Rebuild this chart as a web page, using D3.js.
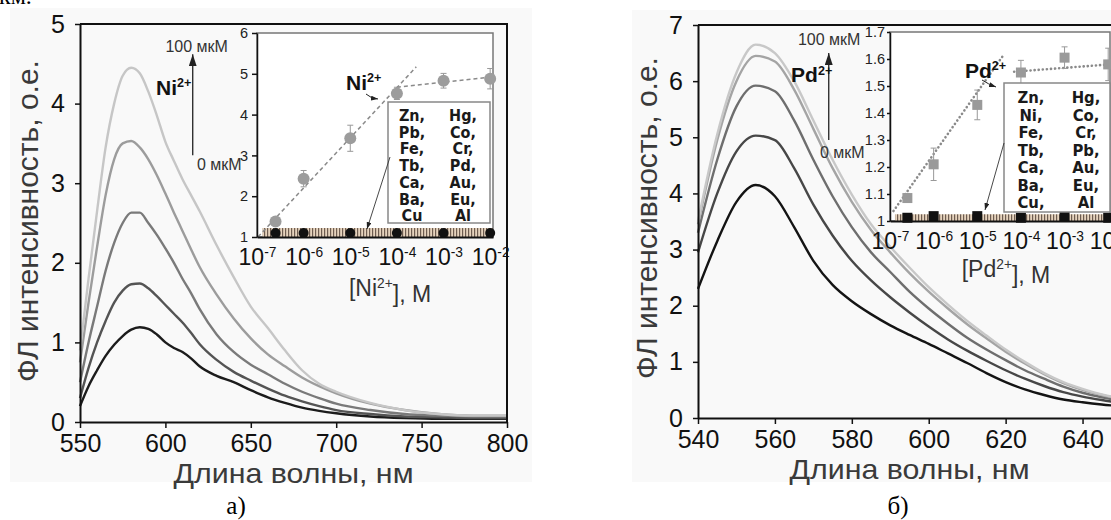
<!DOCTYPE html>
<html>
<head>
<meta charset="utf-8">
<script src="https://cdn.jsdelivr.net/npm/d3@7"></script>
<style>
  body { margin: 0; background: #fff; }
  svg { display: block; font-family: "Liberation Sans", Arial, sans-serif; }
</style>
</head>
<body>
<svg id="fig" width="1111" height="520"></svg>
<script>
"use strict";

// ---- data: panel a (Ni2+) spectra, lightest (100 мкМ) first
var niWave = [550, 555, 560, 565, 570, 575, 580, 585, 590, 595, 600, 605, 610, 615, 620,
              630, 640, 650, 660, 670, 680, 690, 700, 720, 740, 760, 780, 800];
var niSpectra = [
  [0.9, 1.8, 2.65, 3.45, 4.0, 4.35, 4.45, 4.38, 4.15, 3.85, 3.52, 3.28, 3.05, 2.85, 2.65,
   2.22, 1.82, 1.45, 1.18, 0.9, 0.65, 0.48, 0.38, 0.24, 0.15, 0.1, 0.08, 0.08],
  [0.75, 1.5, 2.2, 2.85, 3.3, 3.5, 3.53, 3.45, 3.3, 3.1, 2.87, 2.63, 2.4, 2.17, 1.95,
   1.6, 1.3, 1.05, 0.85, 0.7, 0.56, 0.45, 0.36, 0.23, 0.15, 0.1, 0.08, 0.08],
  [0.5, 1.0, 1.45, 1.9, 2.25, 2.5, 2.63, 2.63, 2.5, 2.35, 2.18, 2.0, 1.8, 1.62, 1.42,
   1.1, 0.88, 0.72, 0.6, 0.48, 0.38, 0.3, 0.23, 0.15, 0.1, 0.08, 0.07, 0.07],
  [0.3, 0.68, 1.0, 1.27, 1.5, 1.65, 1.73, 1.74, 1.68, 1.58, 1.47, 1.36, 1.25, 1.12, 0.98,
   0.78, 0.63, 0.52, 0.42, 0.33, 0.26, 0.2, 0.15, 0.1, 0.07, 0.06, 0.05, 0.05],
  [0.2, 0.45, 0.65, 0.83, 0.97, 1.08, 1.16, 1.19, 1.17, 1.1, 1.0, 0.93, 0.88, 0.8, 0.7,
   0.58, 0.5, 0.4, 0.31, 0.24, 0.18, 0.14, 0.11, 0.07, 0.05, 0.04, 0.04, 0.04]
];
var niColors = ["#c6c6c6", "#9c9c9c", "#7a7a7a", "#545454", "#1c1c1c"];

// ---- data: panel б (Pd2+) spectra
var pdWave = [540, 545, 550, 555, 560, 565, 570, 575, 580, 585, 590, 595, 600, 605, 610,
              615, 620, 625, 630, 635, 640, 645, 650];
var pdSpectra = [
  [3.5, 5.05, 6.15, 6.65, 6.5, 6.0, 5.3, 4.6, 3.98, 3.45, 3.05, 2.68, 2.33, 2.02, 1.73, 1.47, 1.22, 1.0, 0.8, 0.64, 0.52, 0.42, 0.35],
  [3.45, 4.95, 6.0, 6.45, 6.35, 5.85, 5.15, 4.45, 3.85, 3.35, 2.95, 2.58, 2.25, 1.95, 1.67, 1.42, 1.18, 0.97, 0.78, 0.62, 0.5, 0.41, 0.34],
  [3.3, 4.6, 5.55, 5.92, 5.82, 5.3, 4.6, 3.95, 3.4, 2.95, 2.6, 2.25, 1.95, 1.68, 1.43, 1.22, 1.03, 0.85, 0.7, 0.56, 0.45, 0.37, 0.31],
  [2.95, 4.0, 4.75, 5.03, 4.95, 4.45, 3.8, 3.25, 2.8, 2.45, 2.15, 1.88, 1.63, 1.4, 1.2, 1.02, 0.85, 0.7, 0.57, 0.46, 0.38, 0.32, 0.27],
  [2.3, 3.15, 3.85, 4.15, 3.95, 3.4, 2.8, 2.37, 2.08, 1.85, 1.65, 1.48, 1.32, 1.15, 0.98, 0.8, 0.64, 0.51, 0.41, 0.33, 0.28, 0.24, 0.21]
];
var pdColors = ["#c8c8c8", "#a4a4a4", "#6e6e6e", "#474747", "#141414"];

// ---- data: insets
var conc = [2.5e-7, 1e-6, 1e-5, 1e-4, 1e-3, 1e-2];
var niResp = [1.38, 2.43, 3.42, 4.52, 4.83, 4.88];
var niErr = [0.1, 0.2, 0.32, 0.15, 0.18, 0.25];
var niOther = [1.1, 1.1, 1.1, 1.1, 1.1, 1.1];
var niFits = [[[1.05e-7, 1.0], [2.6e-4, 5.17]], [[1e-4, 4.67], [1e-2, 4.92]]];
var niBand = [1.3e-7, 1.15e-2, 1.0, 1.22];

var pdResp = [1.085, 1.21, 1.43, 1.55, 1.605, 1.58];
var pdErr = [0.015, 0.06, 0.055, 0.045, 0.04, 0.06];
var pdOther = [1.012, 1.018, 1.018, 1.012, 1.015, 1.012];
var pdFits = [[[1.2e-7, 1.037], [4.2e-5, 1.62]], [[7e-5, 1.553], [1.1e-2, 1.58]]];
var pdBand = [1.3e-7, 1.1e-2, 1.0, 1.025];

var niLegend = [["Zn,", "Pb,", "Fe,", "Tb,", "Ca,", "Ba,", "Cu"], ["Hg,", "Co,", "Cr,", "Pd,", "Au,", "Eu,", "Al"]];
var pdLegend = [["Zn,", "Ni,", "Fe,", "Tb,", "Ca,", "Ba,", "Cu,"], ["Hg,", "Co,", "Cr,", "Pb,", "Au,", "Eu,", "Al"]];
var decades = [1e-7, 1e-6, 1e-5, 1e-4, 1e-3, 1e-2];

var svg = d3.select("#fig");
var defs = svg.append("defs");

function arrowMarker(id, w, h) {
  defs.append("marker").attr("id", id)
    .attr("viewBox", "0 0 " + w + " " + h)
    .attr("refX", w).attr("refY", h / 2)
    .attr("markerWidth", w).attr("markerHeight", h)
    .attr("markerUnits", "userSpaceOnUse")
    .attr("orient", "auto")
    .append("path").attr("d", "M0,0L" + w + "," + (h / 2) + "L0," + h + "z").attr("fill", "#222");
}
arrowMarker("bigArrow", 12, 8);
arrowMarker("smallArrow", 7, 5);

// striped band for the other metals
var pat = defs.append("pattern").attr("id", "stripes")
  .attr("patternUnits", "userSpaceOnUse").attr("width", 3).attr("height", 20);
pat.append("rect").attr("width", 3).attr("height", 20).attr("fill", "#e6d3bd");
pat.append("rect").attr("width", 1.2).attr("height", 20).attr("fill", "#6d5c50");

// scanned page backgrounds
svg.append("rect").attr("x", 10).attr("y", 8).attr("width", 522).attr("height", 474).attr("fill", "#f9f9f9");
svg.append("rect").attr("x", 632).attr("y", 10).attr("width", 479).attr("height", 472).attr("fill", "#f9f9f9");

// fragment of the text line above the figure
svg.append("text").attr("x", -1).attr("y", 4).attr("font-family", "Liberation Serif, serif")
  .attr("font-size", 24).text("км.");

function styleAxis(g, size, color) {
  g.attr("font-family", null).attr("font-size", size);
  g.select(".domain").attr("stroke", "#111").attr("stroke-width", 2);
  g.selectAll(".tick line").attr("stroke", "#111").attr("stroke-width", 1.5);
  g.selectAll(".tick text").attr("fill", color || "#111");
}

function supText(sel, base, sup, tail) {
  sel.append("tspan").text(base);
  sel.append("tspan").attr("dy", "-0.6em").attr("font-size", "0.6em").text(sup);
  if (tail) sel.append("tspan").attr("dy", "0.6em").text(tail);
}

function mainPanel(o) {
  var x = d3.scaleLinear().domain(o.xDomain).range(o.xRange);
  var y = d3.scaleLinear().domain(o.yDomain).range(o.yRange);
  var g = svg.append("g");

  var line = d3.line().curve(d3.curveMonotoneX)
    .x(function (d) { return x(d[0]); }).y(function (d) { return y(d[1]); });
  o.spectra.slice().reverse().forEach(function (s, i) {
    var k = o.spectra.length - 1 - i;
    g.append("path").datum(o.wave.map(function (w, j) { return [w, s[j]]; }))
      .attr("d", line).attr("fill", "none")
      .attr("stroke", o.colors[k]).attr("stroke-width", 2.4);
  });

  // frame
  g.append("path")
    .attr("d", "M" + x.range()[0] + "," + y.range()[1] + "H" + x.range()[1] + "V" + y.range()[0])
    .attr("fill", "none").attr("stroke", "#111").attr("stroke-width", 2);

  var ax = g.append("g").attr("transform", "translate(0," + y.range()[0] + ")")
    .call(d3.axisBottom(x).tickValues(o.xTicks).tickSize(6).tickSizeOuter(0).tickPadding(6).tickFormat(d3.format("d")));
  styleAxis(ax, 25);
  var ay = g.append("g").attr("transform", "translate(" + x.range()[0] + ",0)")
    .call(d3.axisLeft(y).ticks(o.yDomain[1]).tickSize(5).tickSizeOuter(0).tickPadding(10).tickFormat(d3.format("d")));
  styleAxis(ay, 25);

  g.append("text").attr("x", (x.range()[0] + x.range()[1]) / 2).attr("y", o.xTitleY)
    .attr("text-anchor", "middle").attr("font-size", 28).attr("fill", "#3a3a3a")
    .attr("textLength", 240).attr("lengthAdjust", "spacingAndGlyphs")
    .text("Длина волны, нм");
  g.append("text").attr("transform", "translate(" + o.yTitleX + "," + o.yTitleY + ") rotate(-90)")
    .attr("text-anchor", "middle").attr("font-size", 30).attr("fill", "#3a3a3a")
    .text("ФЛ интенсивность, о.е.");
  g.append("text").attr("x", o.tagX).attr("y", 514).attr("text-anchor", "middle")
    .attr("font-family", "Liberation Serif, serif").attr("font-size", 25).text(o.tag);

  // concentration arrow
  g.append("line").attr("x1", x(o.arrow[0])).attr("x2", x(o.arrow[0]))
    .attr("y1", y(o.arrow[1])).attr("y2", y(o.arrow[2]))
    .attr("stroke", "#222").attr("stroke-width", 1.3).attr("marker-end", "url(#bigArrow)");
  g.append("text").attr("x", x(o.top[0])).attr("y", y(o.top[1])).attr("font-size", 16).attr("fill", "#333").text("100 мкМ");
  g.append("text").attr("x", x(o.bottom[0])).attr("y", y(o.bottom[1])).attr("font-size", 16).attr("fill", "#333").text("0 мкМ");
  supText(g.append("text").attr("x", x(o.ion[0])).attr("y", y(o.ion[1]))
    .attr("font-size", 21).attr("font-weight", "bold").attr("fill", "#111"), o.ionName, "2+");
}

function insetPanel(o) {
  var x = d3.scaleLog().domain(o.xDomain).range(o.xRange);
  var y = d3.scaleLinear().domain(o.yDomain).range(o.yRange);
  var g = svg.append("g");

  g.append("rect").attr("x", o.xRange[0]).attr("y", o.yRange[1])
    .attr("width", o.xRange[1] - o.xRange[0]).attr("height", o.yRange[0] - o.yRange[1])
    .attr("fill", "#fff").attr("stroke", "#777").attr("stroke-width", 1.5);

  // band of the other metal ions
  g.append("rect").attr("x", x(o.band[0])).attr("y", y(o.band[3]))
    .attr("width", x(o.band[1]) - x(o.band[0])).attr("height", y(o.band[2]) - y(o.band[3]))
    .attr("fill", "url(#stripes)");

  // fit lines
  o.fits.forEach(function (f) {
    g.append("line").attr("x1", x(f[0][0])).attr("y1", y(f[0][1]))
      .attr("x2", x(f[1][0])).attr("y2", y(f[1][1]))
      .attr("stroke", "#8a8a8a").attr("stroke-width", o.dotted ? 2.6 : 1.5)
      .attr("stroke-dasharray", o.dotted ? "0.1,4" : "4,3")
      .attr("stroke-linecap", o.dotted ? "round" : "butt");
  });

  // error bars
  var eb = g.selectAll(".eb").data(conc).enter().append("g");
  eb.append("line").attr("x1", function (d) { return x(d); }).attr("x2", function (d) { return x(d); })
    .attr("y1", function (d, i) { return y(o.resp[i] - o.err[i]); })
    .attr("y2", function (d, i) { return y(o.resp[i] + o.err[i]); })
    .attr("stroke", "#999").attr("stroke-width", 1);
  [-1, 1].forEach(function (s) {
    eb.append("line").attr("x1", function (d) { return x(d) - 3; }).attr("x2", function (d) { return x(d) + 3; })
      .attr("y1", function (d, i) { return y(o.resp[i] + s * o.err[i]); })
      .attr("y2", function (d, i) { return y(o.resp[i] + s * o.err[i]); })
      .attr("stroke", "#999").attr("stroke-width", 1);
  });

  if (o.square) {
    g.selectAll(".pm").data(conc).enter().append("rect")
      .attr("x", function (d) { return x(d) - 5; }).attr("y", function (d, i) { return y(o.resp[i]) - 5; })
      .attr("width", 10).attr("height", 10).attr("fill", "#9a9a9a");
    g.selectAll(".om").data(conc).enter().append("rect")
      .attr("x", function (d) { return x(d) - 5; }).attr("y", function (d, i) { return y(o.other[i]) - 5; })
      .attr("width", 10).attr("height", 10).attr("fill", "#111");
  } else {
    g.selectAll(".pm").data(conc).enter().append("circle")
      .attr("cx", function (d) { return x(d); }).attr("cy", function (d, i) { return y(o.resp[i]); })
      .attr("r", 6).attr("fill", "#9c9c9c");
    g.selectAll(".om").data(conc).enter().append("circle")
      .attr("cx", function (d) { return x(d); }).attr("cy", function (d, i) { return y(o.other[i]); })
      .attr("r", 5).attr("fill", "#111");
  }

  // axes
  var ax = g.append("g").attr("transform", "translate(0," + o.yRange[0] + ")")
    .call(d3.axisBottom(x).tickValues(decades).tickSize(0).tickSizeOuter(0).tickPadding(12));
  styleAxis(ax, 23);
  ax.selectAll(".tick text").each(function (d) {
    var t = d3.select(this);
    t.text(null);
    supText(t, "10", String(Math.round(Math.log10(d))));
  });
  var ay = g.append("g").attr("transform", "translate(" + o.xRange[0] + ",0)")
    .call(d3.axisLeft(y).tickValues(o.yTicks).tickSize(o.yTickSize).tickSizeOuter(0).tickPadding(o.yPad).tickFormat(o.yFormat));
  styleAxis(ay, 14.5, "#222");
  ay.select(".domain").attr("stroke-width", 1.5);

  supText(g.append("text").attr("x", o.titleX).attr("y", o.titleY).attr("text-anchor", "middle")
    .attr("font-size", 23).attr("fill", "#333"), "[" + o.ionName, "2+", "], M");

  // ion label with arrow to the calibration line
  supText(g.append("text").attr("x", o.ion[0]).attr("y", o.ion[1])
    .attr("font-size", 21).attr("font-weight", "bold").attr("fill", "#111"), o.ionName, "2+");
  g.append("path").attr("d", o.ionArrow).attr("fill", "none").attr("stroke", "#222")
    .attr("stroke-width", 1).attr("marker-end", "url(#smallArrow)");

  // legend box of the non-responding metals
  g.append("rect").attr("x", o.box[0]).attr("y", o.box[1]).attr("width", o.box[2]).attr("height", o.box[3])
    .attr("fill", "#fff").attr("stroke", "#888").attr("stroke-width", 1.5);
  o.legend.forEach(function (col, c) {
    g.selectAll(null).data(col).enter().append("text")
      .attr("x", o.legendX[c]).attr("y", function (d, i) { return o.legendY + i * o.legendStep; })
      .attr("text-anchor", "middle").attr("font-family", "DejaVu Sans Condensed, Liberation Sans Narrow, sans-serif")
      .attr("font-weight", "bold").attr("font-size", o.legendSize).attr("fill", "#1a1a1a")
      .text(function (d) { return d; });
  });
  g.append("line").attr("x1", o.boxArrow[0]).attr("y1", o.boxArrow[1]).attr("x2", o.boxArrow[2]).attr("y2", o.boxArrow[3])
    .attr("stroke", "#333").attr("stroke-width", 0.9).attr("marker-end", "url(#smallArrow)");
}

mainPanel({
  wave: niWave, spectra: niSpectra, colors: niColors,
  xDomain: [550, 800], xRange: [80, 507], yDomain: [0, 5], yRange: [422, 24],
  xTicks: [550, 600, 650, 700, 750, 800],
  xTitleY: 483, yTitleX: 38, yTitleY: 221, tag: "а)", tagX: 236,
  arrow: [616, 3.35, 4.62], top: [600, 4.65], bottom: [618.5, 3.17], ion: [594.5, 4.11], ionName: "Ni"
});

mainPanel({
  wave: pdWave, spectra: pdSpectra, colors: pdColors,
  xDomain: [540, 650], xRange: [698, 1121], yDomain: [0, 7], yRange: [418, 25],
  xTicks: [540, 560, 580, 600, 620, 640],
  xTitleY: 479, yTitleX: 657, yTitleY: 218, tag: "б)", tagX: 898,
  arrow: [574, 4.95, 6.5], top: [566, 6.64], bottom: [571.7, 4.63], ion: [564.2, 5.98], ionName: "Pd"
});

insetPanel({
  resp: niResp, err: niErr, other: niOther, fits: niFits, band: niBand, legend: niLegend,
  xDomain: [1e-7, 1.15e-2], xRange: [257, 493], yDomain: [1, 6], yRange: [237, 33],
  yTicks: [1, 2, 3, 4, 5, 6], yTickSize: 5, yPad: 4, yFormat: d3.format("d"),
  dotted: false, square: false, ionName: "Ni",
  titleX: 390, titleY: 296, ion: [346, 90], ionArrow: "M366,94 Q370,98 378,99",
  box: [388, 102, 102, 121], legendX: [412, 463], legendY: 121, legendStep: 16.7, legendSize: 16,
  boxArrow: [390, 157, 367, 229]
});

insetPanel({
  resp: pdResp, err: pdErr, other: pdOther, fits: pdFits, band: pdBand, legend: pdLegend,
  xDomain: [1e-7, 1.1e-2], xRange: [890, 1110], yDomain: [1, 1.7], yRange: [221, 32],
  yTicks: [1, 1.1, 1.2, 1.3, 1.4, 1.5, 1.6, 1.7], yTickSize: 3, yPad: 2,
  yFormat: function (d) { return d === 1 ? "1" : d3.format(".1f")(d); },
  dotted: true, square: true, ionName: "Pd",
  titleX: 1006, titleY: 277, ion: [965, 78], ionArrow: "M982,80 Q988,84 996,87",
  box: [1004, 83, 106, 129], legendX: [1031, 1086], legendY: 103, legendStep: 17.5, legendSize: 16.5,
  boxArrow: [1004, 143, 985, 210]
});
</script>
</body>
</html>
